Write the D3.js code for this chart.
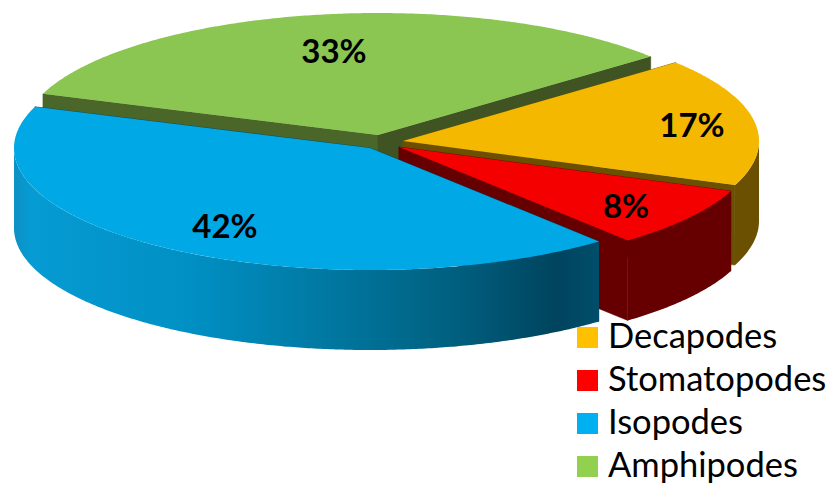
<!DOCTYPE html>
<html><head><meta charset="utf-8">
<script src="https://cdn.jsdelivr.net/npm/d3@7"></script>
<style>html,body{margin:0;padding:0;background:#fff}svg{display:block}text{font-family:Lato,sans-serif;fill:#000}</style>
</head><body><svg id="c" width="830" height="485"></svg>
<script>
const categories = ["Decapodes","Stomatopodes","Isopodes","Amphipodes"];
const values = [17,8,41.6,33.4];
const valueLabels = ["17%","8%","42%","33%"];

const topColors = ["#F4B800","#F50000","#00A8E6","#8AC651"];
const legendColors = ["#FFC000","#FF0000","#00B0F0","#92D050"];
const sideColors = ["#6A5000","#660000","url(#blueSide)","#4A6629"];
const startFaceColors = ["#6A5000","#660000","#00455F","#4A6629"];
const endFaceColors = ["#6A5000","#660000","#00455F","#3F5422"];
const apexes = [[403,141],[399,147],[370,148],[378,135]];
const labelPos = [[692,137],[626,218],[225,238],[334,63]];
const drawOrder = [3,0,1,2];
const rx = 356, ry = 122, depth = 80;
const startDeg = 50;

const svg = d3.select("#c");
const defs = svg.append("defs");
const grad = defs.append("linearGradient").attr("id","blueSide")
  .attr("gradientUnits","userSpaceOnUse").attr("x1",13).attr("x2",598).attr("y1",0).attr("y2",0);
[[0,"#0E90C2"],[0.03,"#069BD3"],[0.3,"#0090C4"],[0.52,"#007AA4"],[0.75,"#006080"],[0.93,"#00445E"],[1,"#004E6A"]]
  .forEach(([o,c])=>grad.append("stop").attr("offset",o).attr("stop-color",c));

const toRad = Math.PI/180;
const pie = d3.pie().sort(null).startAngle(startDeg*toRad).endAngle((startDeg+360)*toRad);
const arcs = pie(values);
const sx = d3.scaleLinear().domain([-1,1]);
const sy = d3.scaleLinear().domain([-1,1]);
const line = d3.line();
const pt = (c,a,dz=0)=>[
  sx.range([c[0]-rx,c[0]+rx])(Math.sin(a)),
  sy.range([c[1]-ry,c[1]+ry])(-Math.cos(a))+dz];
const sample = (a0,a1)=>{const n=Math.max(2,Math.ceil(Math.abs(a1-a0)/(0.5*toRad)));return d3.range(n+1).map(i=>a0+(a1-a0)*i/n);};

drawOrder.forEach(i=>{
  const d = arcs[i], c = apexes[i], g = svg.append("g");
  const a0=d.startAngle, a1=d.endAngle;
  const face=(a,col)=>g.append("path").attr("fill",col).attr("stroke",col).attr("stroke-width",0.6)
    .attr("d",line([c,pt(c,a),pt(c,a,depth),[c[0],c[1]+depth]])+"Z");
  face(a0,startFaceColors[i]); face(a1,endFaceColors[i]);
  const f0=Math.max(a0,90*toRad), f1=Math.min(a1,270*toRad);
  if(f1>f0){
    const ang=sample(f0,f1);
    g.append("path").attr("fill",sideColors[i])
      .attr("d",line(ang.map(a=>pt(c,a)).concat(ang.slice().reverse().map(a=>pt(c,a,depth))))+"Z");
  }
  g.append("path").attr("fill",topColors[i])
    .attr("d",line([c].concat(sample(a0,a1).map(a=>pt(c,a))))+"Z");
});

svg.append("g").selectAll("text").data(valueLabels).join("text")
  .attr("x",(d,i)=>labelPos[i][0]).attr("y",(d,i)=>labelPos[i][1])
  .attr("text-anchor","middle").attr("font-weight",700).attr("font-size",33).text(d=>d);

const lg = svg.append("g").selectAll("g").data(categories).join("g")
  .attr("transform",(d,i)=>`translate(577,${327+i*43})`);
lg.append("rect").attr("width",21).attr("height",21).attr("fill",(d,i)=>legendColors[i]);
lg.append("text").attr("x",31).attr("y",21).attr("font-size",34.5).text(d=>d);
</script></body></html>
